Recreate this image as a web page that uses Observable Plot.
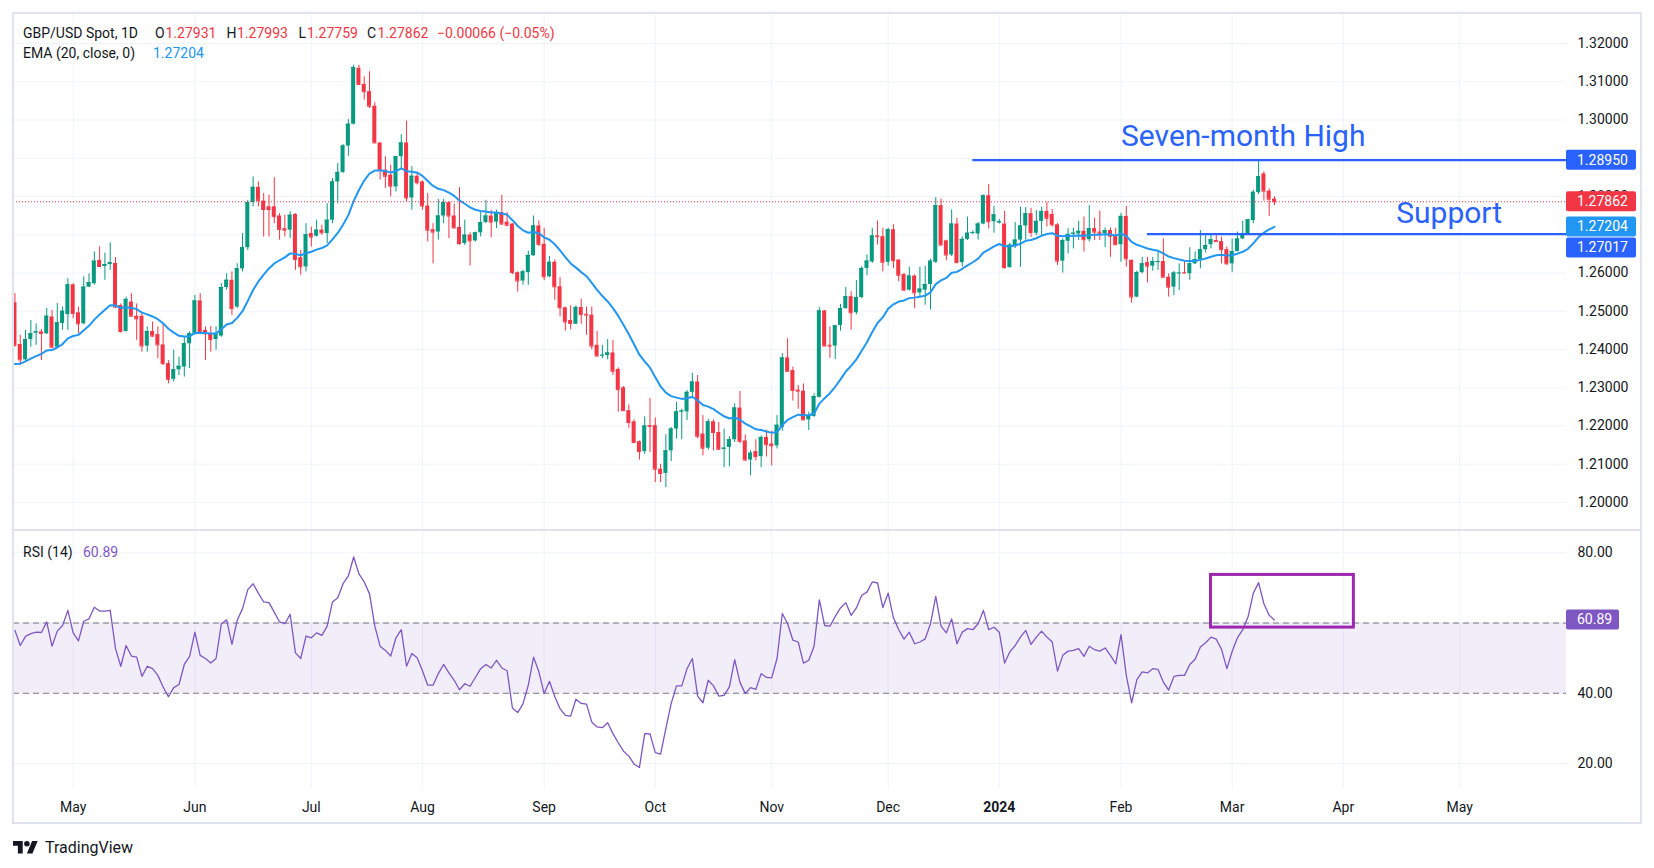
<!DOCTYPE html>
<html><head><meta charset="utf-8">
<script src="https://cdn.jsdelivr.net/npm/d3@7"></script>
<script src="https://cdn.jsdelivr.net/npm/@observablehq/plot@0.6"></script>
<style>
html,body{margin:0;padding:0;background:#fff;overflow:hidden;}
body{width:1654px;height:868px;position:relative;font-family:Roboto,"Noto Sans",sans-serif;color:#131722;}
#price,#rsi{position:absolute;left:0;}
#price{top:0}
#rsi{top:530px}
.frame{position:absolute;left:12px;top:12px;width:1630px;height:812px;box-sizing:border-box;border:2px solid #e0e3eb;pointer-events:none}
.sep{position:absolute;left:12px;top:529px;width:1630px;height:2px;background:#e0e3eb}
.lg{position:absolute;font-size:14px;white-space:pre;line-height:18px}
.logo{position:absolute;left:13px;top:838px;display:flex;align-items:center;gap:4px;font-size:16px;color:#131722}
</style></head><body>
<div id="price"></div>
<div id="rsi"></div>
<div class="frame"></div>
<div class="sep"></div>
<div id="legend"></div>
<div class="logo"><svg width="25" height="12.5" viewBox="0 4 36 18"><path d="M14 22H7V11H0V4h14v18zM28 22h-8l7.5-18h8L28 22z" fill="#131722"/><circle cx="20" cy="8" r="4" fill="#131722"/></svg><span style="margin-left:3px">TradingView</span></div>
<script>
// ---------------- DATA ----------------
const startDate = "2023-04-14"; // first visible daily bar (weekday bars)
const opens = [
1.2522,1.2413,1.2373,1.2426,1.2443,1.2446,1.2441,1.2485,1.2406,1.2468,
1.2491,1.2569,1.2496,1.2467,1.2563,1.2572,1.2633,1.2617,1.2622,1.2625,
1.2515,1.2447,1.2524,1.2487,1.2487,1.2409,1.2447,1.2439,1.2412,1.2363,
1.2322,1.2347,1.2354,1.2415,1.2441,1.2527,1.2450,1.2441,1.2426,1.2435,
1.2562,1.2581,1.2511,1.2611,1.2666,1.2784,1.2824,1.2788,1.2773,1.2773,
1.2749,1.2716,1.2712,1.2753,1.2640,1.2616,1.2703,1.2696,1.2712,1.2703,
1.2738,1.2838,1.2863,1.2932,1.2989,1.3135,1.3093,1.3074,1.3036,1.2940,
1.2869,1.2856,1.2825,1.2904,1.2940,1.2796,1.2853,1.2838,1.2775,1.2713,
1.2707,1.2749,1.2784,1.2749,1.2719,1.2677,1.2699,1.2684,1.2705,1.2732,
1.2749,1.2733,1.2758,1.2733,1.2728,1.2601,1.2579,1.2601,1.2645,1.2723,
1.2675,1.2590,1.2628,1.2564,1.2509,1.2476,1.2466,1.2510,1.2492,1.2490,
1.2411,1.2384,1.2384,1.2391,1.2348,1.2300,1.2240,1.2211,1.2159,1.2133,
1.2201,1.2201,1.2087,1.2076,1.2135,1.2192,1.2237,1.2237,1.2288,1.2315,
1.2179,1.2142,1.2211,1.2183,1.2139,1.2144,1.2164,1.2247,1.2161,1.2111,
1.2133,1.2120,1.2170,1.2153,1.2148,1.2196,1.2378,1.2345,1.2294,1.2291,
1.2216,1.2225,1.2275,1.2501,1.2411,1.2409,1.2463,1.2507,1.2538,1.2496,
1.2536,1.2612,1.2629,1.2697,1.2695,1.2628,1.2713,1.2634,1.2596,1.2555,
1.2592,1.2548,1.2555,1.2570,1.2628,1.2776,1.2684,1.2647,1.2728,1.2627,
1.2688,1.2704,1.2702,1.2728,1.2802,1.2734,1.2731,1.2728,1.2614,1.2669,
1.2686,1.2723,1.2755,1.2704,1.2735,1.2761,1.2753,1.2726,1.2631,1.2683,
1.2701,1.2702,1.2709,1.2687,1.2716,1.2707,1.2703,1.2711,1.2698,1.2674,
1.2748,1.2633,1.2537,1.2601,1.2627,1.2618,1.2628,1.2630,1.2589,1.2563,
1.2599,1.2601,1.2598,1.2624,1.2634,1.2661,1.2674,1.2685,1.2682,1.2661,
1.2624,1.2656,1.2689,1.2702,1.2737,1.2810,1.2859,1.2814,1.27931];
const highs = [
1.2546,1.2437,1.2450,1.2476,1.2467,1.2452,1.2507,1.2502,1.2520,1.2511,
1.2585,1.2572,1.2511,1.2590,1.2598,1.2655,1.2668,1.2652,1.2679,1.2640,
1.2519,1.2537,1.2546,1.2519,1.2494,1.2459,1.2472,1.2459,1.2467,1.2371,
1.2398,1.2380,1.2432,1.2446,1.2541,1.2546,1.2459,1.2460,1.2459,1.2572,
1.2598,1.2603,1.2624,1.2703,1.2790,1.2851,1.2838,1.2808,1.2803,1.2849,
1.2755,1.2751,1.2760,1.2755,1.2659,1.2729,1.2720,1.2738,1.2725,1.2781,
1.2847,1.2886,1.2936,1.3001,1.3143,1.3143,1.3113,1.3126,1.3045,1.2940,
1.2904,1.2882,1.2905,1.2962,1.2997,1.2878,1.2864,1.2841,1.2808,1.2729,
1.2792,1.2792,1.2786,1.2780,1.2823,1.2738,1.2705,1.2707,1.2758,1.2790,
1.2764,1.2764,1.2803,1.2758,1.2729,1.2603,1.2607,1.2657,1.2749,1.2736,
1.2717,1.2643,1.2634,1.2588,1.2511,1.2514,1.2514,1.2532,1.2511,1.2511,
1.2447,1.2411,1.2426,1.2424,1.2352,1.2303,1.2255,1.2216,1.2161,1.2224,
1.2272,1.2221,1.2100,1.2177,1.2196,1.2262,1.2244,1.2293,1.2338,1.2332,
1.2227,1.2218,1.2216,1.2209,1.2192,1.2172,1.2258,1.2290,1.2177,1.2135,
1.2164,1.2174,1.2189,1.2187,1.2227,1.2389,1.2428,1.2354,1.2306,1.2310,
1.2236,1.2284,1.2509,1.2502,1.2459,1.2463,1.2518,1.2562,1.2551,1.2580,
1.2616,1.2647,1.2717,1.2736,1.2717,1.2717,1.2726,1.2634,1.2599,1.2615,
1.2595,1.2615,1.2618,1.2636,1.2797,1.2793,1.2686,1.2765,1.2743,1.2695,
1.2746,1.2710,1.2732,1.2804,1.2831,1.2774,1.2740,1.2761,1.2678,1.2732,
1.2772,1.2771,1.2769,1.2763,1.2772,1.2785,1.2766,1.2729,1.2689,1.2716,
1.2717,1.2735,1.2746,1.2776,1.2743,1.2762,1.2718,1.2718,1.2717,1.2756,
1.2774,1.2634,1.2605,1.2641,1.2641,1.2641,1.2655,1.2689,1.2598,1.2604,
1.2624,1.2630,1.2666,1.2655,1.2711,1.2698,1.2700,1.2700,1.2694,1.2668,
1.2689,1.2707,1.2735,1.2740,1.2816,1.2895,1.2864,1.2820,1.27993];
const lows = [
1.2406,1.2358,1.2367,1.2406,1.2411,1.2371,1.2439,1.2402,1.2404,1.2450,
1.2450,1.2480,1.2441,1.2465,1.2562,1.2568,1.2616,1.2581,1.2607,1.2507,
1.2443,1.2446,1.2485,1.2424,1.2393,1.2393,1.2432,1.2376,1.2358,1.2310,
1.2315,1.2332,1.2328,1.2350,1.2437,1.2443,1.2371,1.2393,1.2398,1.2432,
1.2555,1.2489,1.2507,1.2603,1.2659,1.2773,1.2773,1.2694,1.2694,1.2729,
1.2686,1.2694,1.2690,1.2607,1.2594,1.2603,1.2668,1.2694,1.2699,1.2677,
1.2729,1.2781,1.2860,1.2905,1.2987,1.3090,1.3052,1.3030,1.2939,1.2843,
1.2821,1.2799,1.2812,1.2873,1.2786,1.2764,1.2830,1.2764,1.2681,1.2624,
1.2686,1.2729,1.2690,1.2714,1.2672,1.2672,1.2618,1.2681,1.2694,1.2729,
1.2692,1.2716,1.2725,1.2721,1.2596,1.2550,1.2568,1.2568,1.2644,1.2669,
1.2580,1.2588,1.2529,1.2485,1.2448,1.2452,1.2466,1.2466,1.2437,1.2399,
1.2380,1.2376,1.2373,1.2332,1.2236,1.2238,1.2194,1.2154,1.2111,1.2126,
1.2131,1.2052,1.2052,1.2039,1.2107,1.2166,1.2164,1.2214,1.2271,1.2166,
1.2122,1.2137,1.2135,1.2138,1.2091,1.2093,1.2157,1.2154,1.2107,1.2070,
1.2109,1.2091,1.2119,1.2096,1.2140,1.2186,1.2341,1.2265,1.2244,1.2214,
1.2188,1.2223,1.2273,1.2408,1.2377,1.2374,1.2448,1.2505,1.2450,1.2491,
1.2533,1.2593,1.2625,1.2673,1.2603,1.2618,1.2612,1.2577,1.2553,1.2553,
1.2507,1.2538,1.2516,1.2503,1.2625,1.2671,1.2632,1.2643,1.2625,1.2616,
1.2685,1.2700,1.2686,1.2726,1.2715,1.2704,1.2728,1.2610,1.2613,1.2664,
1.2615,1.2686,1.2693,1.2698,1.2698,1.2720,1.2720,1.2620,1.2600,1.2650,
1.2663,1.2685,1.2655,1.2681,1.2685,1.2685,1.2666,1.2641,1.2672,1.2628,
1.2615,1.2521,1.2535,1.2598,1.2574,1.2605,1.2607,1.2587,1.2537,1.2541,
1.2554,1.2598,1.2581,1.2622,1.2611,1.2652,1.2663,1.2681,1.2624,1.2620,
1.2602,1.2655,1.2687,1.2698,1.2729,1.2805,1.2788,1.2748,1.27759];
const closes = [
1.2411,1.2373,1.2426,1.2441,1.2446,1.2442,1.2487,1.2406,1.2470,1.2500,
1.2569,1.2494,1.2467,1.2563,1.2575,1.2631,1.2617,1.2622,1.2627,1.2511,
1.2447,1.2531,1.2487,1.2480,1.2409,1.2447,1.2435,1.2412,1.2363,1.2322,
1.2347,1.2356,1.2415,1.2441,1.2527,1.2447,1.2441,1.2426,1.2441,1.2562,
1.2581,1.2507,1.2611,1.2666,1.2784,1.2824,1.2790,1.2766,1.2766,1.2747,
1.2714,1.2712,1.2751,1.2635,1.2616,1.2700,1.2694,1.2712,1.2705,1.2738,
1.2838,1.2863,1.2932,1.2989,1.3137,1.3093,1.3074,1.3036,1.2940,1.2869,
1.2853,1.2827,1.2904,1.2940,1.2796,1.2853,1.2836,1.2775,1.2712,1.2707,
1.2749,1.2784,1.2749,1.2718,1.2677,1.2699,1.2684,1.2705,1.2732,1.2749,
1.2733,1.2758,1.2728,1.2725,1.2601,1.2579,1.2603,1.2646,1.2723,1.2675,
1.2590,1.2628,1.2564,1.2509,1.2472,1.2468,1.2510,1.2491,1.2490,1.2409,
1.2383,1.2385,1.2391,1.2343,1.2295,1.2240,1.2209,1.2157,1.2133,1.2200,
1.2199,1.2087,1.2076,1.2135,1.2192,1.2237,1.2239,1.2288,1.2315,1.2173,
1.2142,1.2211,1.2183,1.2139,1.2142,1.2164,1.2247,1.2160,1.2111,1.2129,
1.2120,1.2170,1.2151,1.2148,1.2202,1.2378,1.2343,1.2293,1.2291,1.2216,
1.2227,1.2277,1.2501,1.2409,1.2409,1.2462,1.2507,1.2538,1.2496,1.2536,
1.2612,1.2631,1.2697,1.2695,1.2628,1.2713,1.2632,1.2594,1.2555,1.2592,
1.2548,1.2558,1.2570,1.2631,1.2776,1.2673,1.2647,1.2728,1.2627,1.2688,
1.2704,1.2706,1.2728,1.2802,1.2734,1.2752,1.2734,1.2614,1.2673,1.2686,
1.2723,1.2755,1.2706,1.2735,1.2761,1.2743,1.2726,1.2631,1.2685,1.2701,
1.2704,1.2709,1.2687,1.2716,1.2707,1.2704,1.2711,1.2696,1.2674,1.2748,
1.2637,1.2537,1.2601,1.2624,1.2618,1.2630,1.2630,1.2589,1.2563,1.2600,
1.2600,1.2600,1.2624,1.2635,1.2661,1.2672,1.2687,1.2682,1.2661,1.2624,
1.2656,1.2689,1.2702,1.2739,1.2811,1.2852,1.2814,1.27928,1.27862];
const rsi14 = [
57.9,53.6,56.2,57.0,57.4,57.3,60.3,53.4,57.7,59.3,
63.6,57.2,54.9,60.5,61.2,64.5,63.4,63.4,63.6,52.7,
47.7,53.6,50.6,50.3,44.8,47.7,47.0,45.1,41.8,39.0,
41.6,42.5,48.2,50.5,57.4,50.8,49.9,48.6,49.9,59.8,
60.9,53.9,60.8,64.1,69.5,71.2,68.5,66.0,65.8,63.1,
60.3,59.8,62.5,51.5,49.9,56.3,55.8,57.2,56.5,59.1,
66.0,67.2,71.2,73.4,78.8,74.0,71.7,68.3,59.1,53.4,
52.2,50.6,55.8,58.1,47.7,51.3,50.1,46.4,42.3,42.3,
45.6,48.2,45.8,43.7,41.0,42.7,42.0,44.5,47.0,48.2,
47.2,49.4,47.2,46.4,35.8,34.5,37.0,42.3,50.3,46.1,
39.9,43.4,39.1,35.6,33.7,33.5,38.3,37.1,36.9,31.8,
30.4,30.2,31.6,28.5,25.9,23.5,22.1,19.8,18.9,28.5,
28.4,23.1,22.7,30.0,37.1,42.1,42.1,47.0,49.9,39.2,
37.3,43.7,42.1,39.2,39.4,41.8,49.6,43.1,39.9,41.6,
41.1,45.6,44.5,44.4,49.9,62.7,59.8,55.1,54.6,48.6,
49.4,53.4,66.6,59.3,59.1,61.9,64.3,65.8,62.2,64.3,
67.9,68.8,71.7,71.4,64.4,68.5,61.5,58.1,55.4,57.4,
54.1,54.6,55.5,59.8,67.6,59.1,57.2,61.2,54.1,57.4,
58.4,58.1,59.8,63.6,58.1,58.8,57.4,48.6,51.8,53.6,
56.0,57.9,53.9,56.0,57.7,56.0,54.6,46.3,50.8,52.0,
52.2,52.7,50.5,53.4,52.4,52.0,52.9,50.8,48.4,56.7,
45.1,37.3,43.9,46.1,45.8,47.0,46.8,43.2,40.9,44.8,
45.1,45.1,48.2,49.7,53.2,54.4,56.0,55.4,52.5,47.0,
51.9,55.8,58.1,61.7,68.5,71.5,65.5,62.2,60.89];
const emaSeed = 1.2362;     // EMA(20) at the first visible bar
const emaLastLabel = 1.27204;
const priceTicks = [1.20,1.21,1.22,1.23,1.24,1.25,1.26,1.27,1.28,1.29,1.30,1.31,1.32];
const rsiTicks = [20,40,60,80];
const rsiBands = [40,60];
const monthTicks = [
  ["May","2023-05-01"],["Jun","2023-06-01"],["Jul","2023-07-03"],["Aug","2023-08-01"],
  ["Sep","2023-09-01"],["Oct","2023-10-02"],["Nov","2023-11-01"],["Dec","2023-12-01"],
  ["2024","2024-01-01"],["Feb","2024-02-01"],["Mar","2024-03-01"],["Apr","2024-04-01"],["May","2024-05-01"]];
const levels = [
  {name:"Seven-month High", price:1.28950, from:"2023-12-25", textAt:"2024-02-01", textPrice:1.29315},
  {name:"Support", price:1.27017, from:"2024-02-08", textAt:"2024-04-15", textPrice:1.27302}];
const rsiBox = {from:"2024-02-26", to:"2024-04-03", lo:58.7, hi:73.7};

// ---------------- helpers ----------------
const UP = "#089981", DOWN = "#f23645", BLUE = "#2962ff", EMA_C = "#2196f3", RSI_C = "#7e57c2";
const DAY = 864e5;
function barIndex(s){
  const t0 = Date.parse(startDate+"T00:00:00Z"), t = Date.parse(s+"T00:00:00Z");
  let n = 0;
  for (let d = t0; d < t; d += DAY){ const w = new Date(d).getUTCDay(); if (w !== 0 && w !== 6) n++; }
  return n;
}
const alpha = 2/21;
const ema = [];
closes.forEach((c,i) => ema.push(i === 0 ? emaSeed : alpha*c + (1-alpha)*ema[i-1]));
const bars = closes.map((c,i) => ({i, o:opens[i], h:highs[i], l:lows[i], c, up:c >= opens[i], ema:ema[i], rsi:rsi14[i]}));
const upBars = bars.filter(d => d.up), downBars = bars.filter(d => !d.up);
const ticks = monthTicks.map(([label,date]) => ({label, idx:barIndex(date)}));
const xDomain = [-0.275, 293.18];
const W = 1654, ML = 13, MR = 88;
const lastClose = closes[closes.length-1];
const lastRsi = rsi14[rsi14.length-1];
const HW = 0.38;

const priceTagValues = [levels[0].price, lastClose, emaLastLabel, levels[1].price];
// axis labels that sit fully under a price tag are not visible in the reference
const priceTickLabels = priceTicks.filter(t => !priceTagValues.some(v => Math.abs(v - t) < 0.001));
const rsiTickLabels = rsiTicks.filter(t => Math.abs(lastRsi - t) >= 1.5);

function tagMark(tags, boxW){
  return (index, scales, values, dimensions) => {
    const x0 = dimensions.width - dimensions.marginRight;
    const g = d3.create("svg:g");
    const items = tags.map(t => ({...t, py: scales.y(t.value)})).sort((a,b) => a.py - b.py);
    let prev = -Infinity;
    for (const t of items){
      const top = Math.max(t.py - 10, prev);
      prev = top + 21;
      g.append("rect").attr("x", x0).attr("y", top).attr("width", boxW).attr("height", 20).attr("rx", 2).attr("fill", t.color);
      g.append("text").attr("x", x0 + 11).attr("y", top + 10).attr("dy", "0.36em")
        .attr("text-anchor", "start")
        .attr("fill", "#fff").attr("font-size", 14).attr("font-family", "Roboto, sans-serif").text(t.label);
    }
    return g.node();
  };
}

function candleMarks(data, color){
  return [
    Plot.ruleX(data, {x:"i", y1:"l", y2:"h", stroke:color, strokeWidth:1, clip:true}),
    Plot.rect(data, {x1:d => d.i-HW, x2:d => d.i+HW, y1:"o", y2:"c", fill:color, clip:true}),
    Plot.ruleY(data, {y:"c", x1:d => d.i-HW, x2:d => d.i+HW, stroke:color, strokeWidth:1, clip:true})
  ];
}

// ---------------- price pane ----------------
const pricePlot = Plot.plot({
  width: W, height: 530, marginTop: 13, marginBottom: 0, marginLeft: ML, marginRight: MR,
  x: {domain: xDomain, axis: null},
  y: {domain: [1.19268, 1.327843], axis: null},
  style: {background: "transparent", fontFamily: "Roboto, sans-serif", overflow: "visible"},
  marks: [
    Plot.ruleY(priceTicks, {y: d => d, stroke: "#f0f3fa", strokeWidth: 1}),
    Plot.ruleX(ticks, {x: "idx", stroke: "#f0f3fa", strokeWidth: 1}),
    Plot.text(priceTickLabels, {y: d => d, text: d => d.toFixed(5), frameAnchor: "right", textAnchor: "start", dx: 11, fontSize: 14, fill: "#131722"}),
    ...candleMarks(upBars, UP),
    ...candleMarks(downBars, DOWN),
    Plot.line(bars, {x: "i", y: "ema", stroke: EMA_C, strokeWidth: 2, clip: true}),
    Plot.ruleY([lastClose], {y: d => d, stroke: DOWN, strokeWidth: 1, strokeDasharray: "1,2"}),
    Plot.ruleY(levels, {y: "price", x1: d => barIndex(d.from), x2: xDomain[1], stroke: BLUE, strokeWidth: 2.2}),
    Plot.text(levels, {x: d => barIndex(d.textAt), y: "textPrice", text: "name", textAnchor: "start", lineAnchor: "bottom", fontSize: 30, fill: BLUE}),
    tagMark([
      {value: levels[0].price, label: levels[0].price.toFixed(5), color: BLUE},
      {value: lastClose, label: lastClose.toFixed(5), color: DOWN},
      {value: emaLastLabel, label: emaLastLabel.toFixed(5), color: EMA_C},
      {value: levels[1].price, label: levels[1].price.toFixed(5), color: BLUE}
    ], 70)
  ]
});
document.getElementById("price").append(pricePlot);

// ---------------- RSI pane ----------------
const rsiPlot = Plot.plot({
  width: W, height: 338, marginTop: 0, marginBottom: 80, marginLeft: ML, marginRight: MR,
  x: {domain: xDomain, axis: null},
  y: {domain: [12.88, 86.35], axis: null},
  style: {background: "transparent", fontFamily: "Roboto, sans-serif", overflow: "visible"},
  marks: [
    Plot.ruleX(ticks, {x: "idx", stroke: "#f0f3fa", strokeWidth: 1}),
    Plot.ruleY(rsiTicks, {y: d => d, stroke: "#f0f3fa", strokeWidth: 1}),
    Plot.rect([rsiBands], {y1: d => d[0], y2: d => d[1], fill: RSI_C, fillOpacity: 0.1}),
    Plot.ruleY(rsiBands, {y: d => d, stroke: "#787b86", strokeWidth: 1, strokeDasharray: "6,4"}),
    Plot.text(rsiTickLabels, {y: d => d, text: d => d.toFixed(2), frameAnchor: "right", textAnchor: "start", dx: 11, fontSize: 14, fill: "#131722"}),
    Plot.line(bars, {x: "i", y: "rsi", stroke: RSI_C, strokeWidth: 1.3, clip: true}),
    Plot.rect([rsiBox], {x1: d => barIndex(d.from), x2: d => barIndex(d.to), y1: "lo", y2: "hi", fill: "none", stroke: "#9c27b0", strokeWidth: 3}),
    Plot.text(ticks.filter(t => t.label !== "2024"), {x: "idx", text: "label", frameAnchor: "bottom", dy: 19, lineAnchor: "middle", fontSize: 14, fill: "#131722"}),
    Plot.text(ticks.filter(t => t.label === "2024"), {x: "idx", text: "label", frameAnchor: "bottom", dy: 19, lineAnchor: "middle", fontSize: 14, fontWeight: "bold", fill: "#131722"}),
    tagMark([{value: lastRsi, label: lastRsi.toFixed(2), color: RSI_C}], 53)
  ]
});
document.getElementById("rsi").append(rsiPlot);

// ---------------- legends (HTML text) ----------------
const n = closes.length;
const chg = closes[n-1] - closes[n-2];
const pct = chg / closes[n-2] * 100;
const fmt = (v, d) => (v < 0 ? "\u2212" : "") + Math.abs(v).toFixed(d);
const dark = "#131722";
const pieces = [
  [23, 24, "GBP/USD Spot, 1D", dark],
  [155, 24, "O", dark], [165.5, 24, opens[n-1].toFixed(5), DOWN],
  [226.5, 24, "H", dark], [237, 24, highs[n-1].toFixed(5), DOWN],
  [298.5, 24, "L", dark], [307, 24, lows[n-1].toFixed(5), DOWN],
  [367, 24, "C", dark], [377.5, 24, lastClose.toFixed(5), DOWN],
  [437, 24, fmt(chg, 5) + " (" + fmt(pct, 2) + "%)", DOWN],
  [23, 44, "EMA (20, close, 0)", dark], [153, 44, emaLastLabel.toFixed(5), EMA_C],
  [23, 543, "RSI (14)", dark], [83, 543, lastRsi.toFixed(2), RSI_C]
];
const lg = document.getElementById("legend");
for (const [x, y, t, c] of pieces){
  const s = document.createElement("div");
  s.className = "lg"; s.style.left = x + "px"; s.style.top = y + "px"; s.style.color = c; s.textContent = t;
  lg.append(s);
}
</script>
</body></html>
